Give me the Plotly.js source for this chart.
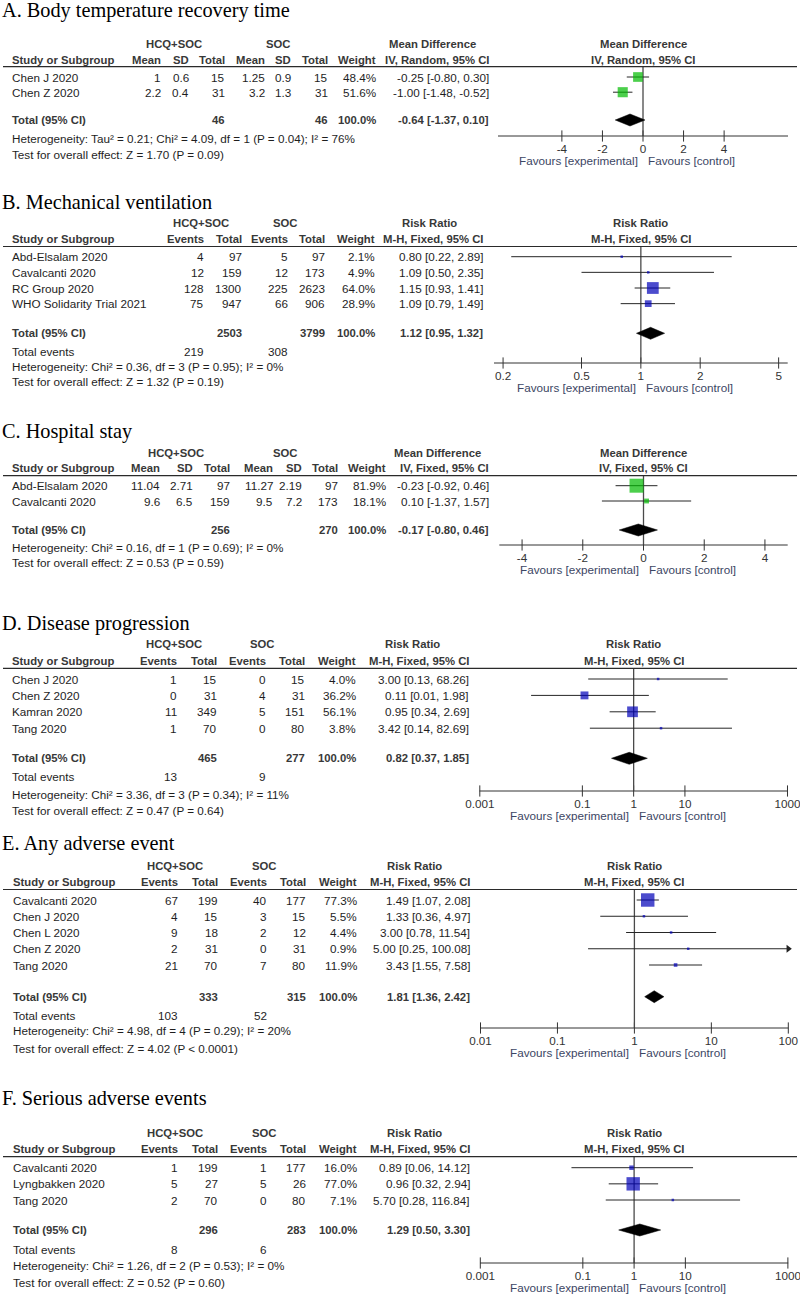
<!DOCTYPE html>
<html><head><meta charset="utf-8">
<script src="https://cdn.plot.ly/plotly-3.0.1.min.js"></script>
<style>html,body{margin:0;padding:0;background:#fff}#chart{width:800px;height:1296px}</style>
</head><body><div id="chart"></div>
<script>
// ================= DATA =================
const TITLES = ['A. Body temperature recovery time','B. Mechanical ventilation','C. Hospital stay',
                'D. Disease progression','E. Any adverse event','F. Serious adverse events'];

// A. Body temperature recovery time (Mean Difference, IV, Random)
const A_studies = ['Chen J 2020','Chen Z 2020'];
const A_expMean = [1, 2.2];
const A_expSD   = [0.6, 0.4];
const A_expN    = [15, 31];
const A_ctlMean = [1.25, 3.2];
const A_ctlSD   = [0.9, 1.3];
const A_ctlN    = [15, 31];
const A_weight  = [48.4, 51.6];
const A_est     = [-0.25, -1.00];
const A_lo      = [-0.80, -1.48];
const A_hi      = [0.30, -0.52];
const A_total   = [46, 46];          // exp N, ctl N
const A_pooled  = [-0.64, -1.37, 0.10];
const A_het  = 'Heterogeneity: Tau² = 0.21; Chi² = 4.09, df = 1 (P = 0.04); I² = 76%';
const A_test = 'Test for overall effect: Z = 1.70 (P = 0.09)';

// B. Mechanical ventilation (Risk Ratio, M-H, Fixed)
const B_studies = ['Abd-Elsalam 2020','Cavalcanti 2020','RC Group 2020','WHO Solidarity Trial 2021'];
const B_expEv  = [4, 12, 128, 75];
const B_expN   = [97, 159, 1300, 947];
const B_ctlEv  = [5, 12, 225, 66];
const B_ctlN   = [97, 173, 2623, 906];
const B_weight = [2.1, 4.9, 64.0, 28.9];
const B_est    = [0.80, 1.09, 1.15, 1.09];
const B_lo     = [0.22, 0.50, 0.93, 0.79];
const B_hi     = [2.89, 2.35, 1.41, 1.49];
const B_total  = [2503, 3799];
const B_events = [219, 308];
const B_pooled = [1.12, 0.95, 1.32];
const B_het  = 'Heterogeneity: Chi² = 0.36, df = 3 (P = 0.95); I² = 0%';
const B_test = 'Test for overall effect: Z = 1.32 (P = 0.19)';

// C. Hospital stay (Mean Difference, IV, Fixed)
const C_studies = ['Abd-Elsalam 2020','Cavalcanti 2020'];
const C_expMean = [11.04, 9.6];
const C_expSD   = [2.71, 6.5];
const C_expN    = [97, 159];
const C_ctlMean = [11.27, 9.5];
const C_ctlSD   = [2.19, 7.2];
const C_ctlN    = [97, 173];
const C_weight  = [81.9, 18.1];
const C_est     = [-0.23, 0.10];
const C_lo      = [-0.92, -1.37];
const C_hi      = [0.46, 1.57];
const C_total   = [256, 270];
const C_pooled  = [-0.17, -0.80, 0.46];
const C_het  = 'Heterogeneity: Chi² = 0.16, df = 1 (P = 0.69); I² = 0%';
const C_test = 'Test for overall effect: Z = 0.53 (P = 0.59)';

// D. Disease progression
const D_studies = ['Chen J 2020','Chen Z 2020','Kamran 2020','Tang 2020'];
const D_expEv  = [1, 0, 11, 1];
const D_expN   = [15, 31, 349, 70];
const D_ctlEv  = [0, 4, 5, 0];
const D_ctlN   = [15, 31, 151, 80];
const D_weight = [4.0, 36.2, 56.1, 3.8];
const D_est    = [3.00, 0.11, 0.95, 3.42];
const D_lo     = [0.13, 0.01, 0.34, 0.14];
const D_hi     = [68.26, 1.98, 2.69, 82.69];
const D_total  = [465, 277];
const D_events = [13, 9];
const D_pooled = [0.82, 0.37, 1.85];
const D_het  = 'Heterogeneity: Chi² = 3.36, df = 3 (P = 0.34); I² = 11%';
const D_test = 'Test for overall effect: Z = 0.47 (P = 0.64)';

// E. Any adverse event
const E_studies = ['Cavalcanti 2020','Chen J 2020','Chen L 2020','Chen Z 2020','Tang 2020'];
const E_expEv  = [67, 4, 9, 2, 21];
const E_expN   = [199, 15, 18, 31, 70];
const E_ctlEv  = [40, 3, 2, 0, 7];
const E_ctlN   = [177, 15, 12, 31, 80];
const E_weight = [77.3, 5.5, 4.4, 0.9, 11.9];
const E_est    = [1.49, 1.33, 3.00, 5.00, 3.43];
const E_lo     = [1.07, 0.36, 0.78, 0.25, 1.55];
const E_hi     = [2.08, 4.97, 11.54, 100.08, 7.58];
const E_total  = [333, 315];
const E_events = [103, 52];
const E_pooled = [1.81, 1.36, 2.42];
const E_het  = 'Heterogeneity: Chi² = 4.98, df = 4 (P = 0.29); I² = 20%';
const E_test = 'Test for overall effect: Z = 4.02 (P < 0.0001)';

// F. Serious adverse events
const F_studies = ['Cavalcanti 2020','Lyngbakken 2020','Tang 2020'];
const F_expEv  = [1, 5, 2];
const F_expN   = [199, 27, 70];
const F_ctlEv  = [1, 5, 0];
const F_ctlN   = [177, 26, 80];
const F_weight = [16.0, 77.0, 7.1];
const F_est    = [0.89, 0.96, 5.70];
const F_lo     = [0.06, 0.32, 0.28];
const F_hi     = [14.12, 2.94, 116.84];
const F_total  = [296, 283];
const F_events = [8, 6];
const F_pooled = [1.29, 0.50, 3.30];
const F_het  = 'Heterogeneity: Chi² = 1.26, df = 2 (P = 0.53); I² = 0%';
const F_test = 'Test for overall effect: Z = 0.52 (P = 0.60)';

const GROUP_LABELS = ['HCQ+SOC', 'SOC'];
const FAVOURS = ['Favours [experimental]', 'Favours [control]'];
const MD_TICKS = [-4, -2, 0, 2, 4];
const RR_TICKS_B = [0.2, 0.5, 1, 2, 5];
const RR_TICKS_DF = [0.001, 0.1, 1, 10, 1000];
const RR_TICKS_E = [0.01, 0.1, 1, 10, 100];

// ================= LAYOUT / STYLE =================
const W = 800, H = 1296;
const SANS = 'Liberation Sans, Arial, Helvetica, sans-serif';
const SERIF = 'Liberation Serif, Times New Roman, serif';
const BODY = '#1e1e1e', HEAD = '#383838', FAV = '#3c4664', AXC = '#333';
const GREEN = '#00bb00', BLUE = '#0000b8';
const FS = 11.7, FSB = 11.3;

const panels = [
  {kind:'cont', title:TITLES[0], studies:A_studies,
   cols:[A_expMean,A_expSD,A_expN,A_ctlMean,A_ctlSD,A_ctlN], weight:A_weight, est:A_est, lo:A_lo, hi:A_hi,
   total:A_total, events:null, pooled:A_pooled, het:A_het, test:A_test,
   effect:'Mean Difference', method:'IV, Random, 95% CI', color:GREEN, nullv:0,
   g:{titleY:10, h1Y:43.5, h2Y:60, lineY:66.7, row0:77, step:15.2, totalY:120, totEvY:null, hetY:138, testY:154,
      axisY:136, studyX:12, colX:[160.7,189.3,225.3,265,291,327.7,375.7,489], h1X:[174,278,432]},
   ax:{type:'linear', range:[-7.15,7.15], dom:[498,788], ticks:MD_TICKS}},
  {kind:'bin', title:TITLES[1], studies:B_studies,
   cols:[B_expEv,B_expN,B_ctlEv,B_ctlN], weight:B_weight, est:B_est, lo:B_lo, hi:B_hi,
   total:B_total, events:B_events, pooled:B_pooled, het:B_het, test:B_test,
   effect:'Risk Ratio', method:'M-H, Fixed, 95% CI', color:BLUE, nullv:1,
   g:{titleY:201.7, h1Y:223.3, h2Y:239.3, lineY:246.5, row0:256.7, step:15.65, totalY:333.3, totEvY:351, hetY:366, testY:381.7,
      axisY:363, studyX:12, colX:[204,241.7,288.3,325,375,483.3], h1X:[200.5,284.7,429.5]},
   ax:{type:'log', range:[-0.745,0.745], dom:[494,787.7], ticks:RR_TICKS_B}},
  {kind:'cont', title:TITLES[2], studies:C_studies,
   cols:[C_expMean,C_expSD,C_expN,C_ctlMean,C_ctlSD,C_ctlN], weight:C_weight, est:C_est, lo:C_lo, hi:C_hi,
   total:C_total, events:null, pooled:C_pooled, het:C_het, test:C_test,
   effect:'Mean Difference', method:'IV, Fixed, 95% CI', color:GREEN, nullv:0,
   g:{titleY:431.7, h1Y:453.3, h2Y:468.3, lineY:475.7, row0:485.7, step:15.3, totalY:530, totEvY:null, hetY:547.3, testY:562.3,
      axisY:545, studyX:12, colX:[160,193.3,230,273.3,301.7,338.3,386,489], h1X:[175.5,284.7,437.8]},
   ax:{type:'linear', range:[-4.75,4.75], dom:[499.3,787.7], ticks:MD_TICKS}},
  {kind:'bin', title:TITLES[3], studies:D_studies,
   cols:[D_expEv,D_expN,D_ctlEv,D_ctlN], weight:D_weight, est:D_est, lo:D_lo, hi:D_hi,
   total:D_total, events:D_events, pooled:D_pooled, het:D_het, test:D_test,
   effect:'Risk Ratio', method:'M-H, Fixed, 95% CI', color:BLUE, nullv:1,
   g:{titleY:623.3, h1Y:644.3, h2Y:661, lineY:668.3, row0:679, step:16.4, totalY:758.3, totEvY:776.7, hetY:794, testY:810,
      axisY:791, studyX:12.3, colX:[177.3,216.7,265.7,305,355.7,469.3], h1X:[173.7,262,412.8]},
   ax:{type:'log', range:[-3.006,3.006], dom:[479.5,787.8], ticks:RR_TICKS_DF}},
  {kind:'bin', title:TITLES[4], studies:E_studies,
   cols:[E_expEv,E_expN,E_ctlEv,E_ctlN], weight:E_weight, est:E_est, lo:E_lo, hi:E_hi,
   total:E_total, events:E_events, pooled:E_pooled, het:E_het, test:E_test,
   effect:'Risk Ratio', method:'M-H, Fixed, 95% CI', color:BLUE, nullv:1,
   g:{titleY:843.3, h1Y:866, h2Y:882.3, lineY:889.5, row0:900, step:16.25, totalY:996.7, totEvY:1015, hetY:1030, testY:1048.3,
      axisY:1028, studyX:13.3, colX:[178.3,218.3,266.7,305.7,356.7,470], h1X:[175,263.8,414.5]},
   ax:{type:'log', range:[-2,2], dom:[480.5,788.3], ticks:RR_TICKS_E}},
  {kind:'bin', title:TITLES[5], studies:F_studies,
   cols:[F_expEv,F_expN,F_ctlEv,F_ctlN], weight:F_weight, est:F_est, lo:F_lo, hi:F_hi,
   total:F_total, events:F_events, pooled:F_pooled, het:F_het, test:F_test,
   effect:'Risk Ratio', method:'M-H, Fixed, 95% CI', color:BLUE, nullv:1,
   g:{titleY:1098.3, h1Y:1132.7, h2Y:1149.3, lineY:1156.7, row0:1167.7, step:16.15, totalY:1230, totEvY:1249, hetY:1265.7, testY:1282.3,
      axisY:1263, studyX:13.3, colX:[178.3,218.3,266.7,305.7,356.7,470], h1X:[175,263.8,414.5]},
   ax:{type:'log', range:[-3.006,3.006], dom:[480,788.2], ticks:RR_TICKS_DF}}
];

// ================= BUILD =================
const annotations = [], shapes = [], traces = [];
const layout = {
  width:W, height:H, margin:{l:0,r:0,t:0,b:0}, paper_bgcolor:'#fff', plot_bgcolor:'rgba(0,0,0,0)',
  showlegend:false, hovermode:false,
  yaxis:{domain:[0,1], range:[H,0], autorange:false, visible:false, fixedrange:true}
};

function txt(x, y, text, anchor, o) {
  o = o || {};
  annotations.push({xref:o.xref||'paper', yref:'y', x:(o.xref ? x : x/W), y:y, text:text,
    xanchor:anchor, yanchor:'middle', showarrow:false, borderpad:0, borderwidth:0,
    xshift:o.xshift||0,
    font:{family:o.family||SANS, size:o.size||FS, color:o.color||BODY}});
}
const fmt2 = v => v.toFixed(2);
const ci = (e,l,h) => fmt2(e)+' ['+fmt2(l)+', '+fmt2(h)+']';
const pct = w => w.toFixed(1)+'%';
const sqSize = w => Math.max(2.5, 14*Math.pow(w/82, 0.7));

panels.forEach((p, i) => {
  const g = p.g, ax = 'x' + (i ? i+1 : ''), axKey = 'xaxis' + (i ? i+1 : '');
  const rows = p.studies.map((s, k) => g.row0 + k*g.step);
  const nC = p.cols.length;

  // title
  txt(2, g.titleY, p.title, 'left', {family:SERIF, size:20.3, color:'#000'});
  // header row 1
  const grp = [GROUP_LABELS[0], GROUP_LABELS[1], p.effect];
  grp.forEach((t, k) => txt(g.h1X[k], g.h1Y, '<b>'+t+'</b>', 'center', {size:FSB, color:HEAD}));
  // header row 2
  const sub = p.kind === 'cont' ? ['Mean','SD','Total','Mean','SD','Total'] : ['Events','Total','Events','Total'];
  txt(g.studyX, g.h2Y, '<b>Study or Subgroup</b>', 'left', {size:FSB, color:HEAD});
  sub.concat(['Weight', p.method]).forEach((t, k) =>
    txt(g.colX[k], g.h2Y, '<b>'+t+'</b>', 'right', {size:FSB, color:HEAD}));
  // header line
  shapes.push({type:'line', xref:'paper', yref:'y', x0:3/W, x1:797/W, y0:g.lineY, y1:g.lineY,
               line:{color:'#2a2a2a', width:1.2}});
  // study rows
  p.studies.forEach((s, k) => {
    txt(g.studyX, rows[k], s, 'left');
    p.cols.forEach((c, j) => txt(g.colX[j], rows[k], String(c[k]), 'right'));
    txt(g.colX[nC], rows[k], pct(p.weight[k]), 'right');
    txt(g.colX[nC+1], rows[k], ci(p.est[k], p.lo[k], p.hi[k]), 'right');
  });
  // total row
  txt(g.studyX, g.totalY, '<b>Total (95% CI)</b>', 'left', {size:FSB, color:HEAD});
  const nIdx = p.kind === 'cont' ? [2,5] : [1,3];
  txt(g.colX[nIdx[0]], g.totalY, '<b>'+p.total[0]+'</b>', 'right', {size:FSB, color:HEAD});
  txt(g.colX[nIdx[1]], g.totalY, '<b>'+p.total[1]+'</b>', 'right', {size:FSB, color:HEAD});
  txt(g.colX[nC], g.totalY, '<b>100.0%</b>', 'right', {size:FSB, color:HEAD});
  txt(g.colX[nC+1], g.totalY, '<b>'+ci(p.pooled[0], p.pooled[1], p.pooled[2])+'</b>', 'right', {size:FSB, color:HEAD});
  // total events
  if (p.events) {
    txt(g.studyX, g.totEvY, 'Total events', 'left');
    txt(g.colX[0], g.totEvY, String(p.events[0]), 'right');
    txt(g.colX[2], g.totEvY, String(p.events[1]), 'right');
  }
  txt(g.studyX, g.hetY, p.het, 'left');
  txt(g.studyX, g.testY, p.test, 'left');

  // ---- forest plot axis (labels from the axis; line + crossing tick marks drawn below) ----
  layout[axKey] = {
    type:p.ax.type, domain:[p.ax.dom[0]/W, p.ax.dom[1]/W], range:p.ax.range, autorange:false,
    anchor:'free', position:1 - g.axisY/H,
    showline:false, ticks:'outside', ticklen:2, tickcolor:'rgba(0,0,0,0)', tickmode:'array',
    tickvals:p.ax.ticks, ticktext:p.ax.ticks.map(v => String(v)),
    ticklabeloverflow:'allow',
    tickfont:{family:SANS, size:FS, color:'#333'},
    showgrid:false, zeroline:false, fixedrange:true
  };
  shapes.push({type:'line', xref:'paper', yref:'y', x0:p.ax.dom[0]/W, x1:p.ax.dom[1]/W,
               y0:g.axisY, y1:g.axisY, line:{color:AXC, width:1}});
  traces.push({type:'scatter', mode:'markers', xaxis:ax, yaxis:'y', cliponaxis:false,
    x:p.ax.ticks, y:p.ax.ticks.map(() => g.axisY),
    marker:{symbol:'line-ns-open', size:8, color:AXC, line:{color:AXC, width:1}}, hoverinfo:'skip'});

  // plot headers centred on the null line (0 is also log10(1))
  txt(0, g.h1Y, '<b>'+p.effect+'</b>', 'center', {xref:ax, size:FSB, color:HEAD});
  txt(0, g.h2Y, '<b>'+p.method+'</b>', 'center', {xref:ax, size:FSB, color:HEAD});
  txt(0, g.axisY + 24, FAVOURS[0], 'right', {xref:ax, xshift:-5, color:FAV});
  txt(0, g.axisY + 24, FAVOURS[1], 'left', {xref:ax, xshift:5, color:FAV});

  // null line
  traces.push({type:'scatter', mode:'lines', xaxis:ax, yaxis:'y',
    x:[p.nullv, p.nullv], y:[g.lineY, g.axisY], line:{color:'#4a4a4a', width:1.3}, hoverinfo:'skip'});
  // whiskers
  const wx = [], wy = [];
  p.studies.forEach((s, k) => { wx.push(p.lo[k], p.hi[k], null); wy.push(rows[k], rows[k], null); });
  traces.push({type:'scatter', mode:'lines', xaxis:ax, yaxis:'y', x:wx, y:wy,
    line:{color:'#262626', width:1}, hoverinfo:'skip'});
  // arrows for CIs running off the axis
  const axMax = p.ax.type === 'log' ? Math.pow(10, p.ax.range[1]) : p.ax.range[1];
  const arX = [], arY = [];
  p.studies.forEach((s, k) => { if (p.hi[k] > axMax) { arX.push(axMax); arY.push(rows[k]); } });
  if (arX.length) traces.push({type:'scatter', mode:'markers', xaxis:ax, yaxis:'y', x:arX, y:arY,
    cliponaxis:false, marker:{symbol:'triangle-right', size:7, color:'#222', line:{width:0}}, hoverinfo:'skip'});
  // squares
  traces.push({type:'scatter', mode:'markers', xaxis:ax, yaxis:'y', x:p.est, y:rows,
    marker:{symbol:'square', size:p.weight.map(sqSize), color:p.color, line:{width:0}}, hoverinfo:'skip'});
  // pooled diamond
  const dh = 6, ty = g.totalY;
  traces.push({type:'scatter', mode:'lines', xaxis:ax, yaxis:'y', fill:'toself', fillcolor:'#000',
    x:[p.pooled[1], p.pooled[0], p.pooled[2], p.pooled[0], p.pooled[1]],
    y:[ty, ty-dh, ty, ty+dh, ty], line:{color:'#000', width:0.5}, hoverinfo:'skip'});
});

layout.annotations = annotations;
layout.shapes = shapes;
Plotly.newPlot('chart', traces, layout, {staticPlot:true, displayModeBar:false});
</script>
</body></html>
